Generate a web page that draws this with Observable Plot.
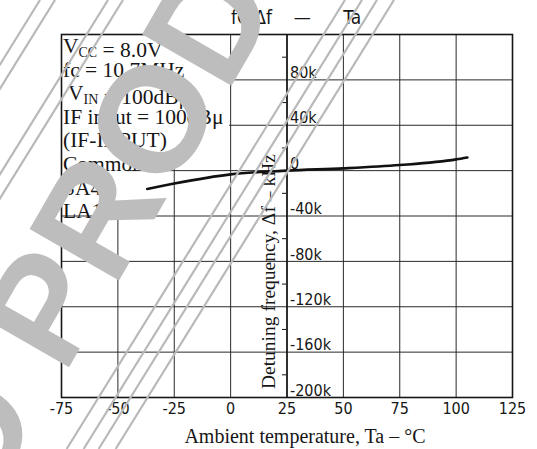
<!DOCTYPE html>
<html><head><meta charset="utf-8">
<script src="https://cdn.jsdelivr.net/npm/d3@7"></script>
<script src="https://cdn.jsdelivr.net/npm/@observablehq/plot@0.6"></script>
<style>
html,body{margin:0;padding:0;background:#fff;}
#wrap{position:relative;width:537px;height:449px;overflow:hidden;background:#fff;}
#wrap svg{display:block}
#wm{position:absolute;left:0;top:0;pointer-events:none}
</style></head><body><div id="wrap"></div>
<script>
// ---- data ----
const temperature = [-37, -25, 0, 25, 50, 75, 100, 105];          // Ta, °C
const detuning = [-16200, -11400, -3300, 0, 2000, 4900, 9900, 11600]; // Δf
const xTicks = [-75, -50, -25, 0, 25, 50, 75, 100, 125];
const yGrid = [120000, 80000, 40000, 0, -40000, -80000, -120000, -160000, -200000];
const yTickLabels = ["", "80k", "40k", "0", "-40k", "-80k", "-120k", "-160k", "-200k"];
const yMinor = [100000, 60000, 20000, -20000, -60000, -100000, -140000, -180000];
const chartTitle = "fC·Δf\u00a0\u00a0\u00a0\u00a0—\u00a0\u00a0\u00a0\u00a0\u00a0\u00a0Ta";
const xTitle = "Ambient temperature, Ta – °C";
const yTitle = "Detuning frequency, Δf – kHz";
const conditionLines = ["V_CC = 8.0V", "fc = 10.7MHz", " V_IN = 100dBμ", "IF input = 100dBμ", "(IF-INPUT)", "Common", "SA47", "LA148"];

const SANS = "'DejaVu Sans Condensed','Liberation Sans Narrow','DejaVu Sans',sans-serif";
const SERIF = "'Liberation Serif','DejaVu Serif',serif";
const INK = "#161616";

const points = temperature.map((t, i) => ({t, f: detuning[i]}));

const chart = Plot.plot({
  width: 537, height: 449,
  marginTop: 34, marginRight: 25, marginBottom: 52, marginLeft: 61,
  style: {background: "#fff", color: INK, fontFamily: SANS, fontSize: "16px", overflow: "visible"},
  x: {domain: [-75, 125]},
  y: {domain: [-200000, 120000], axis: null},
  marks: [
    Plot.ruleX(xTicks, {stroke: "#2a2a2a", strokeWidth: 1}),
    Plot.ruleY(yGrid, {stroke: "#2a2a2a", strokeWidth: 1}),
    // white areas behind the condition text block
    Plot.rect([0], {x1: () => -75, x2: () => 0, y1: () => 0, y2: () => 120000, fill: "#fff", insetBottom: 1, insetRight: 1, insetLeft: 1, insetTop: 1}),
    Plot.rect([0], {x1: () => -75, x2: () => -46, y1: () => -40000, y2: () => 0, fill: "#fff", insetBottom: 1, insetTop: -1, insetLeft: 1}),
    Plot.ruleY(yMinor, {x1: () => 23, x2: () => 25, stroke: INK, strokeWidth: 1}),
    Plot.line(points, {x: "t", y: "f", curve: "monotone-x", stroke: "#111", strokeWidth: 2.6}),
    Plot.frame({stroke: INK, strokeWidth: 1.6}),
    Plot.ruleX([25], {stroke: INK, strokeWidth: 1.6}),
    Plot.text(yGrid, {x: () => 25, y: d => d, text: (d, i) => yTickLabels[i], textAnchor: "start", dx: 3, dy: -7, fontSize: 16, fill: INK}),
    Plot.axisX(xTicks, {tickSize: 0, tickPadding: 5, fontSize: 16, tickFormat: d => String(d), label: null, fill: INK}),
    Plot.text([xTitle], {frameAnchor: "bottom", dx: 18, dy: 39, lineAnchor: "middle", fontFamily: SERIF, fontSize: 20, fill: INK}),
    Plot.text([yTitle], {x: () => 17, y: () => -89000, rotate: -90, lineAnchor: "middle", fontFamily: SERIF, fontSize: 19.5, fill: INK}),
    Plot.text([chartTitle], {frameAnchor: "top", dx: 9, dy: -17, lineAnchor: "middle", fontSize: 19, fill: INK})
  ]
});
document.getElementById("wrap").appendChild(chart);

// condition text block, placed through the plot's scales
const xs = chart.scale("x"), ys = chart.scale("y");
const svgSel = d3.select(chart);
const blockLeft = xs.apply(-75), blockTop = ys.apply(120000);
const block = svgSel.append("g").attr("font-family", SERIF).attr("font-size", 21.5)
  .attr("fill", INK).attr("text-anchor", "start");
conditionLines.forEach((line, i) => {
  const t = block.append("text").attr("x", blockLeft + 2).attr("y", blockTop + 19 + i * 23.6)
    .attr("text-anchor", "start").attr("xml:space", "preserve");
  line.split(/(_[A-Z]+)/).forEach(part => {
    if (part.startsWith("_")) {
      t.append("tspan").attr("font-size", 14).attr("dy", 4).text(part.slice(1));
      t.append("tspan").attr("dy", -4).text("");
    } else if (part) t.append("tspan").text(part);
  });
});

// scanned-sheet watermark overlay
const wm = d3.select("#wrap").append("svg").attr("id", "wm").attr("width", 537).attr("height", 449);
const slope = 0.62;
[40, 55, 108, 123, 345, 362, 377, 394].forEach(xt => {
  wm.append("line").attr("x1", xt).attr("y1", 0).attr("x2", xt - 449 * slope).attr("y2", 449)
    .attr("stroke", "#b9b9b9").attr("stroke-width", 2.2);
});
const ang = 60;
const g = wm.append("g").attr("transform", `translate(64,376) rotate(${-ang})`)
  .attr("font-family", "'Liberation Sans',Arial,sans-serif").attr("font-weight", "bold")
  .attr("font-size", 150).attr("fill", "#bdbdbd");
g.append("text").attr("x", 0).attr("y", 0).attr("text-anchor", "start").text("PRODUCT");
g.append("text").attr("x", -42).attr("y", 0).attr("text-anchor", "end").text("DISCONTINUED");
</script></body></html>
